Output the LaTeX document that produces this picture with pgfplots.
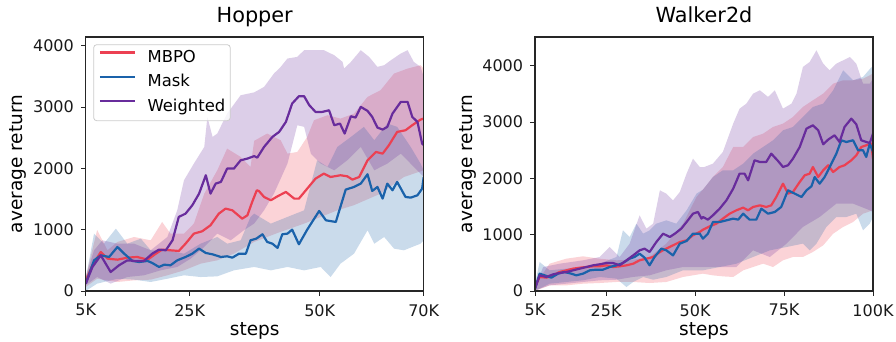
\documentclass[border=0pt]{standalone}
\usepackage{fontspec}
\setmainfont{DejaVu Sans}
\usepackage{pgfplots}
\pgfplotsset{compat=1.18}
\usepgfplotslibrary{fillbetween}
\definecolor{cRed}{RGB}{236,64,82}
\definecolor{cBlue}{RGB}{26,98,170}
\definecolor{cPurple}{RGB}{104,44,156}
\newcommand{\legfont}{\fontsize{16.4}{16.4}\selectfont}
\pgfplotsset{
  myax/.style={
    scale only axis, width=338pt, height=254pt, anchor=south west,
    axis on top,
    axis line style={line width=1.1pt, black!85},
    tick align=outside, xtick pos=bottom, ytick pos=left,
    tick style={line width=1pt, black!85}, major tick length=4.7pt,
    ymin=0,
    ticklabel style={font=\fontsize{16}{16}\selectfont, inner sep=0pt, text=black!90},
    yticklabel style={anchor=east, xshift=-7pt},
    xticklabel style={anchor=north, yshift=-8.3pt},
    ytick={0,1000,2000,3000,4000}, yticklabels={0,1000,2000,3000,4000},
    title style={at={(axis description cs:0.5,1)}, anchor=base, yshift=8.7pt, inner sep=0pt, font=\fontsize{20.8}{20.8}\selectfont},
    xlabel style={at={(axis description cs:0.5,0)}, anchor=base, yshift=-44.5pt, inner sep=0pt, font=\fontsize{18.5}{18.5}\selectfont},
    ylabel style={anchor=south, inner sep=0pt, font=\fontsize{18.5}{18.5}\selectfont},
    xlabel={steps}, ylabel={average return},
    mean/.style={line width=2.2pt, line join=round},
    band/.style={draw=none, fill opacity=0.23},
  }
}
\begin{document}
\begin{tikzpicture}
% ---------------- Hopper ----------------
\begin{axis}[myax, at={(85.7pt,50pt)}, xmin=5, xmax=70, ymax=4143,
  xtick={5,25,50,70}, xticklabels={5K,25K,50K,70K},
  title={Hopper},
  ylabel style={at={(axis description cs:-0.1746,0.5)}},
  legend style={at={(axis description cs:0,1)}, anchor=north west, xshift=7.6pt, yshift=-7.3pt,
    draw=black!20, line width=0.8pt, fill=white, fill opacity=0.8, text opacity=1, rounded corners=3pt,
    inner xsep=5pt, inner ysep=6pt, font=\legfont, row sep=8.6pt,
    nodes={inner sep=0pt, text height=11.9pt, text depth=3.7pt, font=\legfont},
    /tikz/every odd column/.append style={column sep=11.7pt},
    /tikz/every even column/.append style={column sep=0pt}},
  legend cell align=left,
  legend image code/.code={\draw[#1, line width=2.2pt] (0pt,6pt) -- (35pt,6pt);},
]
% MBPO band
\addplot[draw=none, name path=hru, forget plot] table {
5.0 228
7.2 995
9.2 664
11.1 800
14.3 881
17.5 827
19.7 1126
21.3 936
23.9 936
25.8 1099
27.8 1588
30.3 1969
32.2 2323
34.8 2187
36.7 2024
37.4 2450
39.9 2568
42.5 2459
43.8 2241
45.7 2268
47.6 2513
48.9 2786
51.5 2867
54.0 2812
56.6 2894
59.2 3166
61.7 3275
64.3 3547
66.9 3628
69.4 3683
70.0 3628
};
\addplot[draw=none, name path=hrl, forget plot] table {
5.0 65
7.2 200
11.1 147
14.3 174
17.5 185
20.7 256
23.9 337
27.1 446
30.3 500
33.5 609
37.4 800
42.0 950
47.0 1099
53.4 1316
56.6 1400
61.7 1588
66.2 1860
70.0 1969
};
\addplot[band, fill=cRed, forget plot] fill between[of=hru and hrl];
% Mask band
\addplot[draw=none, name path=hbu, forget plot] table {
5.0 201
6.6 936
8.5 772
10.8 1017
13.0 772
15.6 854
17.5 664
20.7 664
23.9 609
27.1 772
30.3 881
32.2 772
34.8 827
36.7 1208
37.4 1262
40.6 1099
43.8 1208
47.0 1316
49.5 2132
51.5 2024
53.4 2350
56.0 2513
58.5 2677
60.5 2459
63.0 2731
64.9 2677
67.5 2350
69.4 2078
70.0 1969
};
\addplot[draw=none, name path=hbl, forget plot] table {
5.0 0
7.2 120
11.1 200
14.3 185
17.5 147
20.7 200
23.9 256
27.1 228
30.3 239
33.5 337
37.4 392
40.6 337
43.8 392
47.0 337
50.2 392
52.1 228
54.0 446
56.6 609
59.2 990
60.5 772
62.4 881
64.3 691
66.2 664
69.4 772
70.0 827
};
\addplot[band, fill=cBlue, forget plot] fill between[of=hbu and hbl];
% Weighted band
\addplot[draw=none, name path=hpu, forget plot] table {
5.0 228
6.6 664
8.2 827
11.1 772
14.3 772
17.5 664
20.7 881
22.6 1316
23.9 1806
25.8 2078
27.8 2350
28.4 2840
29.4 2513
30.3 2568
32.2 2894
34.8 3193
37.4 3240
39.3 3329
41.2 3547
42.5 3656
43.8 3792
45.7 3819
47.0 3928
48.9 3928
50.8 3928
52.8 3846
54.4 3737
54.7 3629
56.0 3737
57.9 3928
59.5 3819
61.1 3656
62.4 3683
63.7 3765
65.6 3874
66.9 3928
68.1 3737
69.4 3656
70.0 3493
};
\addplot[draw=none, name path=hpl, forget plot] table {
5.0 93
7.2 228
9.8 120
13.0 228
16.2 256
19.4 337
22.6 392
25.2 528
27.8 718
30.3 936
32.9 827
35.4 990
37.4 1100
39.3 1316
41.2 1588
43.8 2078
45.7 2704
47.0 2677
48.3 2241
50.2 2078
52.8 1969
55.3 2132
57.9 2350
60.5 1969
63.0 2078
65.6 2241
68.1 2024
70.0 1860
};
\addplot[band, fill=cPurple, forget plot] fill between[of=hpu and hpl];
% means
\addplot[mean, cRed] table {
5.0 170
6.3 420
7.9 636
9.2 528
11.1 511
13.0 544
14.9 555
16.9 511
18.5 609
19.7 675
21.3 664
22.9 653
24.2 772
25.8 936
27.4 974
29.0 1072
30.6 1262
31.9 1344
33.2 1316
35.1 1180
36.1 1235
37.0 1450
37.9 1643
38.3 1632
39.3 1534
40.6 1480
41.9 1545
43.5 1616
45.1 1507
46.0 1507
47.6 1670
49.2 1833
50.8 1915
52.1 1860
54.0 1888
55.3 1871
56.3 1817
57.6 1860
59.2 2132
60.8 2268
62.1 2241
63.3 2377
64.9 2595
66.5 2622
67.8 2704
69.4 2796
70.0 2812
};
\addlegendentry{MBPO}
\addplot[mean, cBlue] table {
5.0 120
6.6 500
7.9 582
9.5 555
11.1 718
12.4 609
14.0 490
15.3 473
16.9 490
17.8 457
19.1 392
20.1 430
21.3 419
22.6 500
24.2 555
25.5 609
26.8 691
28.1 620
29.4 598
31.0 555
32.2 566
33.2 544
34.5 609
35.8 609
36.7 827
37.8 854
39.0 925
39.9 800
40.9 772
41.9 702
42.8 925
43.8 936
44.7 1001
46.0 762
47.6 1001
49.9 1306
51.2 1153
53.1 1126
55.0 1654
56.6 1697
57.9 1752
59.2 1904
60.1 1632
61.1 1697
62.1 1507
63.0 1752
64.0 1643
64.9 1779
66.5 1534
67.5 1523
68.8 1561
69.7 1670
70.0 1860
};
\addlegendentry{Mask}
\addplot[mean, cPurple] table {
5.0 120
6.3 392
7.9 582
9.8 310
11.4 419
13.0 500
14.6 490
16.2 490
17.8 609
19.1 675
20.4 664
21.7 827
22.9 1208
24.2 1262
25.5 1398
26.8 1588
28.1 1888
29.0 1588
30.0 1752
31.0 1779
32.2 1997
33.5 1997
34.8 2132
36.1 2160
37.4 2200
38.0 2176
39.3 2350
40.9 2513
42.2 2595
43.5 2758
44.7 3057
46.0 3177
47.0 3177
48.0 3030
49.2 2921
50.5 2921
51.8 2948
52.8 2704
53.9 2731
54.8 2568
56.0 2850
56.9 2829
57.9 3003
59.2 2938
60.1 2840
61.1 2666
62.1 2633
63.0 2677
64.0 2894
65.6 3085
66.9 3085
67.8 2840
68.8 2758
69.7 2404
70.0 2380
};
\addlegendentry{Weighted}
\end{axis}
% ---------------- Walker2d ----------------
\begin{axis}[myax, at={(535pt,50pt)}, xmin=5, xmax=100, ymax=4510,
  xtick={5,25,50,75,100}, xticklabels={5K,25K,50K,75K,100K},
  title={Walker2d},
  ylabel style={at={(axis description cs:-0.1725,0.5)}},
]
\addplot[draw=none, name path=wru, forget plot] table {
5.0 100
9.1 485
13.8 574
18.5 616
23.2 574
27.9 545
32.6 556
37.2 604
41.9 841
46.6 1196
50.4 1669
52.8 1847
55.0 2024
57.8 2202
60.7 2557
63.5 2557
66.3 2735
69.1 2794
71.9 2913
74.7 2972
77.5 3090
80.3 3268
83.1 3386
86.0 3505
88.8 3682
91.6 3741
94.4 3741
97.2 3771
100.0 3860
};
\addplot[draw=none, name path=wrl, forget plot] table {
5.0 0
9.1 100
13.8 100
18.5 130
23.2 142
27.9 160
32.6 160
37.2 142
41.9 160
46.6 249
52.2 308
55.0 278
57.8 260
60.7 249
63.5 367
66.3 426
69.1 485
71.9 426
74.7 545
77.5 604
80.3 604
83.1 693
86.0 811
88.8 1018
91.6 1137
94.4 1225
97.2 1373
100.0 1433
};
\addplot[band, fill=cRed, forget plot] fill between[of=wru and wrl];
\addplot[draw=none, name path=wbu, forget plot] table {
5.0 130
6.3 515
9.1 367
13.8 397
18.5 426
23.2 485
27.9 604
29.7 1077
31.6 959
33.5 1196
35.4 1018
37.2 1077
39.1 1196
41.9 1255
44.7 1196
47.6 1433
50.4 1729
52.2 1800
55.0 2024
57.8 2143
60.7 2143
63.5 2261
66.3 2439
69.1 2557
71.9 2676
74.7 2853
77.5 2913
80.3 3090
83.1 3268
86.0 3327
88.8 3564
91.6 3919
94.4 3741
97.2 3801
99.6 3978
100.0 3860
};
\addplot[draw=none, name path=wbl, forget plot] table {
5.0 0
9.1 130
13.8 160
18.5 190
23.2 249
27.9 219
30.7 71
32.6 160
35.4 249
38.2 200
41.9 249
46.6 367
52.2 367
56.9 426
61.6 485
66.3 604
71.0 722
75.7 781
80.3 841
82.2 722
84.1 841
86.9 1137
89.7 1314
92.5 1314
95.3 1373
97.2 1077
99.1 1196
100.0 1314
};
\addplot[band, fill=cBlue, forget plot] fill between[of=wbu and wbl];
\addplot[draw=none, name path=wpu, forget plot] table {
5.0 71
7.3 426
11.9 485
18.5 545
23.2 604
26.0 781
28.8 604
31.6 841
34.4 1344
36.3 1107
38.2 1196
40.1 1788
41.9 1729
43.8 1610
45.7 1758
47.6 2084
49.4 2350
51.3 2202
52.5 2200
55.0 2261
57.8 2469
60.7 2972
62.5 3238
64.4 3327
66.3 3505
68.2 3564
70.5 3446
72.4 3564
74.7 3238
77.1 3327
78.5 3505
80.3 3978
82.2 4067
84.1 4274
86.0 4037
87.8 3919
89.7 4037
91.6 4096
93.5 4156
95.3 4037
97.2 3682
99.1 3682
100.0 3771
};
\addplot[draw=none, name path=wpl, forget plot] table {
5.0 12
9.1 100
13.8 130
18.5 160
23.2 190
27.9 200
32.6 250
37.2 278
41.9 367
46.6 426
52.2 426
61.6 426
66.3 722
71.0 604
75.7 841
80.3 1137
85.0 1314
89.7 1551
94.4 1551
99.1 1433
100.0 1400
};
\addplot[band, fill=cPurple, forget plot] fill between[of=wpu and wpl];
\addplot[mean, cRed] table {
5.0 71
6.3 249
8.2 237
10.1 278
11.9 337
13.8 367
15.7 397
17.6 414
19.4 426
21.3 438
23.2 438
25.1 456
26.9 426
28.8 438
30.7 456
32.6 485
34.4 545
36.3 574
38.2 604
40.1 693
41.9 752
43.8 811
45.7 870
47.6 900
49.4 989
51.3 1048
52.2 1089
54.1 1148
56.0 1196
57.8 1285
59.7 1373
61.6 1433
63.5 1480
64.9 1433
66.3 1492
68.2 1521
70.0 1492
71.4 1521
72.8 1669
74.7 1906
76.1 1729
77.5 1758
79.4 1936
80.8 2054
82.2 2084
83.1 2202
84.6 2024
86.0 2143
87.4 2232
88.8 2113
90.6 2202
92.0 2232
93.9 2321
95.3 2409
96.7 2557
98.1 2587
99.5 2617
100.0 2350
};
\addplot[mean, cBlue] table {
5.0 41
6.3 308
7.7 278
9.6 237
11.5 308
13.3 337
15.2 308
16.6 278
18.5 308
20.4 367
22.2 379
24.1 379
26.0 426
27.9 456
29.7 497
31.6 574
33.0 604
34.4 663
35.8 592
37.2 456
38.6 604
40.5 752
41.9 722
43.8 633
45.7 841
47.6 888
49.4 1018
51.3 1018
52.2 929
53.6 1018
55.0 1225
56.9 1225
58.8 1255
60.7 1285
62.1 1267
63.5 1373
65.3 1267
67.2 1267
68.6 1462
70.5 1373
72.4 1403
74.2 1492
76.1 1788
78.0 1729
79.9 1669
81.3 1788
82.7 1859
83.6 2024
85.0 1906
86.4 2024
88.3 2261
89.7 2439
91.1 2676
92.5 2646
94.4 2676
95.8 2498
97.2 2498
98.1 2380
99.1 2617
100.0 2469
};
\addplot[mean, cPurple] table {
5.0 41
6.3 278
8.2 249
10.1 296
11.9 320
13.8 337
15.7 367
17.6 397
19.4 426
21.3 456
23.2 474
25.1 497
26.9 497
28.8 456
30.7 545
32.6 633
34.4 722
35.8 752
37.2 693
39.1 870
41.0 1018
42.9 959
44.3 1018
46.1 1107
47.6 1225
49.4 1373
50.8 1403
51.8 1285
52.2 1314
53.6 1267
55.0 1344
56.9 1462
58.8 1610
60.7 1817
62.5 2084
63.9 2084
64.9 1965
66.7 2321
68.2 2291
70.0 2291
71.4 2439
73.3 2309
74.7 2202
76.1 2232
77.5 2350
79.4 2557
81.3 2883
83.1 2942
84.6 2853
86.0 2605
87.4 2688
89.2 2765
90.6 2646
92.0 2913
93.9 3061
95.3 2960
96.7 2676
98.1 2646
99.1 2628
100.0 2794
};
\end{axis}
\pgfresetboundingbox
\path[use as bounding box] (0pt,0pt) rectangle (896pt,341pt);
\end{tikzpicture}
\end{document}
